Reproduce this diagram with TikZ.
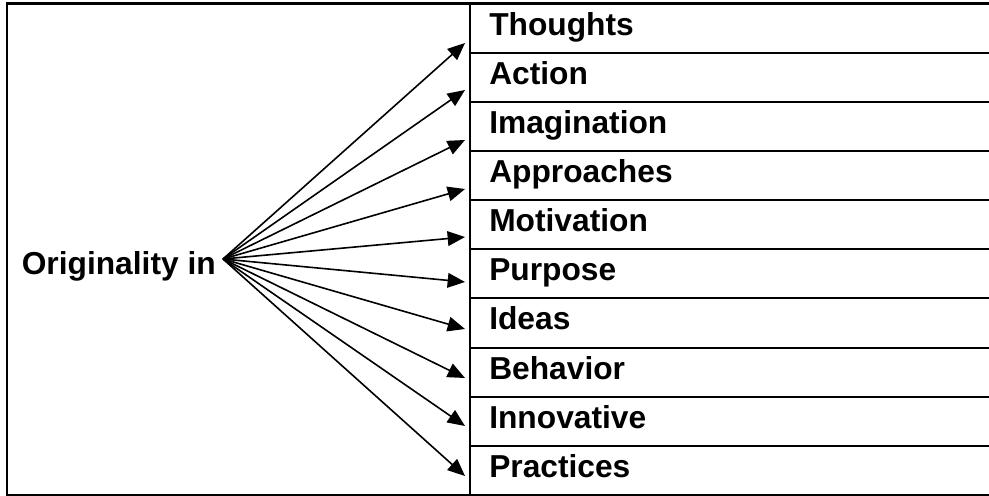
\documentclass[tikz,border=0pt]{standalone}
\usepackage{fontspec}
\setmainfont{Liberation Sans}
\usetikzlibrary{arrows.meta}
\begin{document}
\begin{tikzpicture}[x=0.75pt,y=-0.75pt,
  frame/.style={line width=1.6pt},
  rowline/.style={line width=1.5pt},
  item/.style={anchor=base west,inner sep=0pt,font=\bfseries\fontsize{23.8pt}{28pt}\selectfont},
  conn/.style={line width=1.2pt,-{Triangle[length=13pt,width=11pt]}}]
\useasboundingbox (0,0) rectangle (989,496);
% frame
\draw[frame] (989,3.5) -- (7,3.5) -- (7,495) -- (989,495);
\draw[frame] (470,3.5) -- (470,495);
\foreach \k in {1,...,9}{
  \draw[rowline] (470,{3.5+49.15*\k}) -- (989,{3.5+49.15*\k});
}
% source
\node[item,anchor=base east] (src) at (216,274) {Originality in};
\coordinate (apex) at (223,259);
% items
\foreach \t [count=\i] in {Thoughts,Action,Imagination,Approaches,Motivation,Purpose,Ideas,Behavior,Innovative,Practices}{
  \node[item] (it\i) at (489,{3.5+49.15*(\i-1)+31.5}) {\t};
}
% arrow targets
\coordinate (t1) at (465,43);
\coordinate (t2) at (465,90);
\coordinate (t3) at (465,140);
\coordinate (t4) at (465,189);
\coordinate (t5) at (465,237);
\coordinate (t6) at (465,282);
\coordinate (t7) at (465,329);
\coordinate (t8) at (465,378);
\coordinate (t9) at (465,426);
\coordinate (t10) at (465,476);
\foreach \i in {1,...,10}{
  \draw[conn] (apex) -- (t\i);
}
\end{tikzpicture}
\end{document}
